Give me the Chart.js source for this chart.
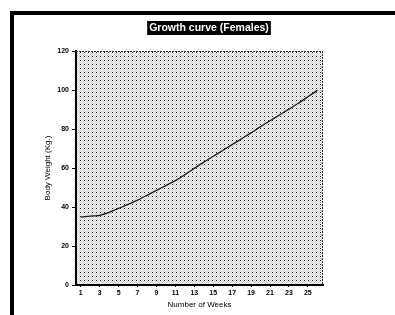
<!DOCTYPE html>
<html>
<head>
<meta charset="utf-8">
<script src="https://cdn.jsdelivr.net/npm/chart.js@4.4.0/dist/chart.umd.min.js"></script>
<style>
  html, body { margin: 0; padding: 0; background: #fff; overflow: hidden; }
  #frame { position: absolute; left: 10px; top: 11px; width: 420px; height: 330px;
           border-left: 4px solid #000; border-top: 4px solid #000; }
  #wrap { position: absolute; left: 0; top: 0; width: 395px; height: 315px; }
</style>
</head>
<body>
<div id="frame"></div>
<div id="wrap"><canvas id="grafico" width="395" height="315"></canvas></div>
<script>
const weeks = [1, 2, 3, 4, 5, 6, 7, 8, 9, 10, 11, 12, 13, 14, 15, 16, 17, 18, 19, 20, 21, 22, 23, 24, 25, 26];
const bodyWeight = [34.8, 35.3, 35.7, 37.2, 39.3, 41.3, 43.5, 46, 48.5, 51, 53.5, 56.5, 59.8, 63,
                    66, 69, 72, 75, 78, 81.2, 84.2, 87.2, 90.2, 93.2, 96.5, 99.8];
const xTicks = [1, 3, 5, 7, 9, 11, 13, 15, 17, 19, 21, 23, 25];
const yTicks = [0, 20, 40, 60, 80, 100, 120];

const tituloGrafico = 'Growth curve (Females)';

// padrão pontilhado do fundo
const fundoPadrao = (ctx) => {
  const c = document.createElement('canvas');
  c.width = 4; c.height = 4;
  const p = c.getContext('2d');
  p.fillStyle = '#f6f6f6';
  p.fillRect(0, 0, 4, 4);
  p.fillStyle = '#d2d2d2';
  for (let y = 0; y < 4; y++) {
    for (let x = 0; x < 4; x++) {
      if ((x + y) % 2 === 0) p.fillRect(x, y, 1, 1);
    }
  }
  p.fillStyle = '#222';
  p.fillRect(0, 0, 1, 1);
  return ctx.createPattern(c, 'repeat');
};

const pluginFundo = {
  id: 'fundo',
  beforeDraw(chart) {
    const { ctx, chartArea: a } = chart;
    ctx.save();
    ctx.fillStyle = fundoPadrao(ctx);
    ctx.fillRect(a.left, a.top, a.right - a.left, a.bottom - a.top);
    ctx.restore();
  },
  afterDraw(chart) {
    const { ctx, chartArea: a } = chart;
    ctx.save();
    ctx.strokeStyle = '#333';
    ctx.lineWidth = 1;
    ctx.setLineDash([2, 1]);
    ctx.beginPath();
    ctx.moveTo(a.left, a.top + 0.5);
    ctx.lineTo(a.right - 0.5, a.top + 0.5);
    ctx.lineTo(a.right - 0.5, a.bottom);
    ctx.stroke();
    ctx.setLineDash([]);

    // título em caixa preta
    ctx.font = 'bold 10.5px "Liberation Sans", Arial, sans-serif';
    const w = ctx.measureText(tituloGrafico).width;
    const cx = 209, cy = 28;
    ctx.fillStyle = '#000';
    ctx.fillRect(cx - w / 2 - 2, cy - 7, w + 4, 14);
    ctx.fillStyle = '#fff';
    ctx.textAlign = 'center';
    ctx.textBaseline = 'middle';
    ctx.fillText(tituloGrafico, cx, cy + 0.5);
    ctx.restore();
  }
};

const fonteTicks = { family: '"Liberation Sans", Arial, sans-serif', size: 7, weight: 'bold' };
const fonteTitulo = { family: '"Liberation Sans", Arial, sans-serif', size: 8 };

new Chart(document.getElementById('grafico'), {
  type: 'line',
  data: {
    datasets: [{
      label: 'Body Weight',
      data: weeks.map((w, i) => ({ x: w, y: bodyWeight[i] })),
      borderColor: '#1a1a1a',
      borderWidth: 1.3,
      pointRadius: 0,
      tension: 0.2,
      fill: false
    }]
  },
  plugins: [pluginFundo],
  options: {
    responsive: false,
    animation: false,
    layout: { padding: { top: 51, right: 72, left: 0, bottom: 0 } },
    plugins: {
      legend: { display: false },
      tooltip: { enabled: false }
    },
    scales: {
      x: {
        type: 'linear',
        min: 0.5,
        max: 26.6,
        afterBuildTicks: (scale) => { scale.ticks = xTicks.map(v => ({ value: v })); },
        afterFit: (scale) => { scale.height = 30; },
        grid: { drawOnChartArea: false, drawTicks: true, tickLength: 2, color: '#000' },
        border: { color: '#000', width: 2 },
        ticks: { color: '#000', font: fonteTicks, padding: 2, maxRotation: 0, autoSkip: false },
        title: { display: true, text: 'Number of Weeks', color: '#000', font: fonteTitulo,
                 padding: { top: 0, bottom: 5 } }
      },
      y: {
        min: 0,
        max: 120,
        afterBuildTicks: (scale) => { scale.ticks = yTicks.map(v => ({ value: v })); },
        afterFit: (scale) => { scale.width = 76; },
        grid: { drawOnChartArea: false, drawTicks: true, tickLength: 4, color: '#000' },
        border: { color: '#000', width: 2 },
        ticks: { color: '#000', font: fonteTicks, padding: 3 },
        title: { display: true, text: 'Body Weight (Kg.)', color: '#000', font: fonteTitulo,
                 padding: { top: 43, bottom: 0 } }
      }
    }
  }
});
</script>
</body>
</html>
